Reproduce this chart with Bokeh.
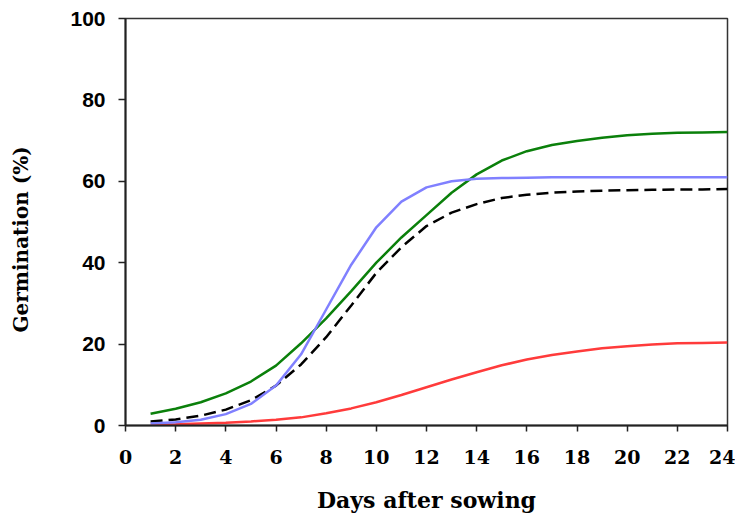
from bokeh.plotting import figure
from bokeh.models import Range1d, FixedTicker
from bokeh.embed import file_html
from bokeh.resources import INLINE

days = list(range(1, 25))
green = [2.9, 4.1, 5.7, 7.9, 10.8, 14.7, 20.2, 26.3, 33.0, 40.0, 46.2, 51.7,
         57.2, 61.7, 65.1, 67.4, 68.9, 69.9, 70.7, 71.3, 71.7, 71.9, 72.0, 72.1]
blue = [0.5, 0.8, 1.4, 2.8, 5.3, 9.8, 17.5, 28.5, 39.5, 48.7, 55.0, 58.5,
        60.0, 60.6, 60.8, 60.9, 61.0, 61.0, 61.0, 61.0, 61.0, 61.0, 61.0, 61.0]
black = [1.0, 1.5, 2.4, 3.9, 6.2, 9.8, 15.0, 21.7, 29.5, 37.5, 43.8, 49.0,
         52.3, 54.4, 55.9, 56.7, 57.2, 57.5, 57.7, 57.8, 57.9, 58.0, 58.0, 58.1]
red = [0.2, 0.3, 0.5, 0.7, 1.0, 1.4, 2.0, 3.0, 4.2, 5.7, 7.5, 9.4,
       11.3, 13.1, 14.8, 16.2, 17.3, 18.2, 19.0, 19.5, 19.9, 20.2, 20.3, 20.4]

x_ticks = list(range(0, 25, 2))
y_ticks = list(range(0, 101, 20))

p = figure(width=735, height=513, output_backend="svg", toolbar_location=None,
           x_range=Range1d(0, 24), y_range=Range1d(0, 100),
           min_border_left=125, min_border_right=8, min_border_top=18, min_border_bottom=88)
p.frame_width = 602
p.frame_height = 407

p.line(days, red, line_color="#ff3b3b", line_width=2.5)
p.line(days, black, line_color="black", line_width=2.5, line_dash="12 6")
p.line(days, green, line_color="#0b800b", line_width=2.5)
p.line(days, blue, line_color="#8080ff", line_width=2.5)

p.grid.visible = False
p.outline_line_color = "#333333"
p.outline_line_width = 1.5
p.background_fill_color = "white"
p.border_fill_color = "white"

p.xaxis.ticker = FixedTicker(ticks=x_ticks)
p.yaxis.ticker = FixedTicker(ticks=y_ticks)
for ax in (p.xaxis[0], p.yaxis[0]):
    ax.axis_line_color = "#222222"
    ax.axis_line_width = 2
    ax.major_tick_line_color = "#222222"
    ax.major_tick_line_width = 1.5
    ax.major_tick_in = 0
    ax.minor_tick_line_color = None
    ax.major_label_text_font_style = "bold"
    ax.major_label_text_color = "black"
    ax.axis_label_text_font_style = "bold"
    ax.axis_label_text_color = "black"
    ax.axis_label_text_font = "DejaVu Serif"

p.xaxis.major_tick_out = 6
p.xaxis.major_label_standoff = 18
p.xaxis.major_label_text_font = "DejaVu Serif"
p.xaxis.major_label_text_font_size = "19px"
p.xaxis.axis_label = "Days after sowing"
p.xaxis.axis_label_text_font_size = "22px"
p.xaxis.axis_label_standoff = 20

p.yaxis.major_tick_out = 7
p.yaxis.major_label_standoff = 13
p.yaxis.major_label_text_font = "Liberation Sans"
p.yaxis.major_label_text_font_size = "21px"
p.yaxis.axis_label = "Germination (%)" + "\u00a0" * 5
p.yaxis.axis_label_text_font_size = "20px"
p.yaxis.axis_label_standoff = 34

open("out.html", "w").write(file_html(p, INLINE))
